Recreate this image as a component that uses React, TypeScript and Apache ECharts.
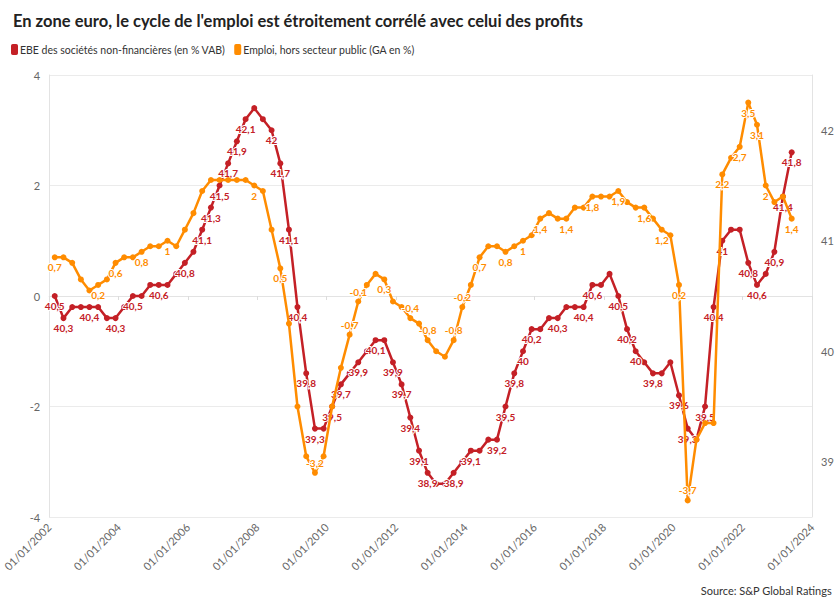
import React, { useEffect, useRef } from "react";
import * as echarts from "echarts";

// Quarterly observations, first quarter 2002 to second quarter 2023
const START_YEAR = 2002;
const N_QUARTERS = 86;

// EBE des sociétés non-financières (en % VAB) — right axis
const ebe: number[] = [
  40.5, 40.3, 40.4, 40.4, 40.4, 40.4, 40.3, 40.3, 40.4, 40.5,
  40.5, 40.6, 40.6, 40.6, 40.7, 40.8, 40.9, 41.1, 41.3, 41.5,
  41.7, 41.9, 42.1, 42.2, 42.1, 42.0, 41.7, 41.1, 40.4, 39.8,
  39.3, 39.3, 39.5, 39.7, 39.8, 39.9, 40.0, 40.1, 40.1, 39.9,
  39.7, 39.4, 39.1, 38.9, 38.8, 38.8, 38.9, 39.0, 39.1, 39.1,
  39.2, 39.2, 39.5, 39.8, 40.0, 40.2, 40.2, 40.3, 40.3, 40.4,
  40.4, 40.4, 40.6, 40.6, 40.7, 40.5, 40.2, 40.0, 39.9, 39.8,
  39.8, 39.9, 39.6, 39.3, 39.2, 39.5, 40.4, 41.0, 41.1, 41.1,
  40.8, 40.6, 40.7, 40.9, 41.4, 41.8,
];

// Emploi, hors secteur public (GA en %) — left axis
const emploi: number[] = [
  0.7, 0.7, 0.6, 0.3, 0.1, 0.2, 0.3, 0.6, 0.7, 0.7,
  0.8, 0.9, 0.9, 1.0, 0.9, 1.2, 1.5, 1.9, 2.1, 2.1,
  2.1, 2.1, 2.1, 2.0, 1.9, 1.2, 0.5, -0.5, -2.0, -2.9,
  -3.2, -2.9, -2.0, -1.3, -0.7, -0.1, 0.2, 0.4, 0.3, -0.1,
  -0.2, -0.4, -0.5, -0.8, -1.0, -1.1, -0.8, -0.2, 0.2, 0.7,
  0.9, 0.9, 0.8, 0.9, 1.0, 1.1, 1.4, 1.5, 1.4, 1.4,
  1.6, 1.6, 1.8, 1.8, 1.8, 1.9, 1.7, 1.6, 1.6, 1.4,
  1.2, 1.1, 0.2, -3.7, -2.6, -2.3, -2.3, 2.2, 2.5, 2.7,
  3.5, 3.1, 2.0, 1.7, 1.8, 1.4,
];

// Indices of the points that carry a value label
const ebeLabelIdx: number[] = [
  0, 1, 4, 7, 9, 12, 15, 17, 18, 19, 20, 21, 22, 25, 26, 27, 28, 29, 30,
  32, 33, 35, 37, 39, 40, 41, 42, 43, 46, 48, 51, 52, 53, 54, 55, 58, 61,
  62, 65, 66, 67, 69, 72, 73, 75, 76, 77, 80, 81, 83, 84, 85,
];
const emploiLabelIdx: number[] = [
  0, 5, 7, 10, 13, 23, 26, 30, 34, 35, 38, 41, 43, 46, 47, 49, 52, 54, 56,
  59, 62, 65, 68, 70, 72, 73, 77, 79, 80, 81, 82, 85,
];

const leftTicks = { min: -4, max: 4, interval: 2 };
const rightTicks = { min: 38.5, max: 42.5, interval: 0.5 };
const xTicks = { min: 2002, max: 2024, interval: 2 };

const TITLE =
  "En zone euro, le cycle de l'emploi est étroitement corrélé avec celui des profits";
const NAME_EBE = "EBE des sociétés non-financières (en % VAB)";
const NAME_EMP = "Emploi, hors secteur public (GA en %)";
const SOURCE = "Source: S&P Global Ratings";

const RED = "#c42026";
const ORANGE = "#ff8c00";

// Observation dates: first day of the last month of each quarter, as fractional years
function quarterDates(): number[] {
  const out: number[] = [];
  for (let i = 0; i < N_QUARTERS; i++) {
    const y = START_YEAR + Math.floor(i / 4);
    const m = (i % 4) * 3 + 2; // Mar, Jun, Sep, Dec (0-based month)
    const t = Date.UTC(y, m, 1);
    const y0 = Date.UTC(y, 0, 1);
    const y1 = Date.UTC(y + 1, 0, 1);
    out.push(y + (t - y0) / (y1 - y0));
  }
  return out;
}

const fmt = (v: number) => String(v).replace(".", ",");

export default function App() {
  const ref = useRef<HTMLDivElement>(null);
  useEffect(() => {
    document.body.style.margin = "0";
    if (!ref.current) return;
    const chart = echarts.init(ref.current, undefined, { renderer: "svg" });
    const xs = quarterDates();
    const ebeSet = new Set(ebeLabelIdx);
    const empSet = new Set(emploiLabelIdx);

    const labelBase = {
      fontSize: 10,
      fontWeight: "bold" as const,
      fontFamily: "Lato",
      textBorderColor: "#fff",
      textBorderWidth: 2,
      distance: 2,
      formatter: (p: any) => fmt(p.value[1]),
    };

    const ebeData = ebe.map((v, i) => ({
      value: [xs[i], v],
      label: { show: ebeSet.has(i), position: "bottom" },
    }));
    const empData = emploi.map((v, i) => ({
      value: [xs[i], v],
      label: { show: empSet.has(i), position: v >= 0 ? "bottom" : "top" },
    }));

    chart.setOption({
      animation: false,
      textStyle: { fontFamily: "Lato" },
      title: {
        text: TITLE,
        left: 8,
        top: 7,
        textStyle: { fontSize: 16.5, fontWeight: "bold", color: "#222", fontFamily: "Lato" },
      },
      legend: {
        left: 6,
        top: 39,
        icon: "roundRect",
        itemWidth: 7,
        itemHeight: 11,
        itemGap: 9,
        textStyle: { fontSize: 10.5, color: "#333", fontFamily: "Lato", padding: [0, 0, 0, -3] },
        data: [NAME_EBE, NAME_EMP],
      },
      graphic: [
        {
          type: "text",
          right: 8,
          top: 585,
          style: { text: SOURCE, fontSize: 11, fill: "#333", fontFamily: "Lato" },
        },
      ],
      grid: { left: 42, right: 28, top: 75, bottom: 90 },
      xAxis: {
        type: "value",
        min: xTicks.min,
        max: xTicks.max,
        interval: xTicks.interval,
        axisLine: { show: true, lineStyle: { color: "#e3e3e3" } },
        axisTick: { show: true, length: 4, lineStyle: { color: "#dcdcdc" } },
        splitLine: { show: false },
        axisLabel: {
          rotate: 45,
          margin: 8,
          fontSize: 11,
          color: "#666",
          formatter: (v: number) => "01/01/" + v,
          showMinLabel: true,
          showMaxLabel: true,
        },
      },
      yAxis: [
        {
          type: "value",
          position: "left",
          min: leftTicks.min,
          max: leftTicks.max,
          interval: leftTicks.interval,
          axisLine: { show: true, lineStyle: { color: "#e3e3e3" } },
          axisTick: { show: false },
          splitLine: { show: true, lineStyle: { color: "#ebebeb" } },
          axisLabel: { color: "#666", fontSize: 11, margin: 9 },
        },
        {
          type: "value",
          position: "right",
          min: rightTicks.min,
          max: rightTicks.max,
          interval: rightTicks.interval,
          axisLine: { show: true, lineStyle: { color: "#e3e3e3" } },
          axisTick: { show: false },
          splitLine: { show: false },
          axisLabel: {
            color: "#666",
            fontSize: 11,
            margin: 9,
            formatter: (v: number) => (Number.isInteger(v) ? String(v) : ""),
          },
        },
      ],
      series: [
        {
          name: NAME_EBE,
          type: "line",
          yAxisIndex: 1,
          data: ebeData,
          symbol: "circle",
          symbolSize: 6,
          lineStyle: { width: 2.5, color: RED },
          itemStyle: { color: RED },
          label: { ...labelBase, color: RED },
          z: 2,
        },
        {
          name: NAME_EMP,
          type: "line",
          yAxisIndex: 0,
          data: empData,
          symbol: "circle",
          symbolSize: 6,
          lineStyle: { width: 2.5, color: ORANGE },
          itemStyle: { color: ORANGE },
          label: { ...labelBase, color: ORANGE },
          z: 3,
        },
      ],
    });
    return () => chart.dispose();
  }, []);
  return <div ref={ref} style={{ width: 840, height: 607 }} />;
}
